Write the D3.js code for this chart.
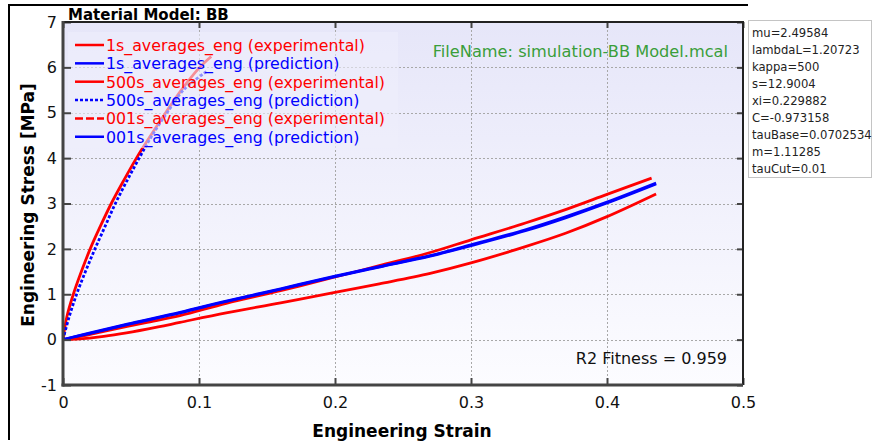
<!DOCTYPE html>
<html>
<head>
<meta charset="utf-8">
<script src="https://cdn.jsdelivr.net/npm/d3@7"></script>
<style>
  html, body { margin: 0; padding: 0; background: #ffffff; }
  svg { display: block; font-family: "DejaVu Sans", Verdana, sans-serif; }
</style>
</head>
<body>
<svg id="chart" width="873" height="442"></svg>
<script>
// Axis ticks
const xTicks = [0, 0.1, 0.2, 0.3, 0.4, 0.5];
const yTicks = [-1, 0, 1, 2, 3, 4, 5, 6, 7];

// 500s rate: experimental and prediction (stiff branch)
const strain500Exp = [0, 0.0028, 0.0076, 0.0135, 0.0200, 0.0275, 0.0355, 0.0445, 0.054, 0.0645, 0.0755, 0.087, 0.1005, 0.109];
const stress500Exp = [0, 0.5, 1.0, 1.5, 2.0, 2.5, 3.0, 3.5, 4.0, 4.5, 5.0, 5.5, 6.0, 6.24];
const strain500Pred = [0, 0.0045, 0.010, 0.0165, 0.0235, 0.031, 0.0385, 0.047, 0.056, 0.0655, 0.0765, 0.0885, 0.1056];
const stress500Pred = [0, 0.5, 1.0, 1.5, 2.0, 2.5, 3.0, 3.5, 4.0, 4.5, 5.0, 5.5, 5.91];

// 1s rate
const strain1Exp = [0, 0.01, 0.03, 0.06, 0.086, 0.12, 0.16, 0.2, 0.2326, 0.27, 0.3, 0.34, 0.37, 0.4, 0.4328];
const stress1Exp = [0, 0.05, 0.18, 0.37, 0.53, 0.8, 1.08, 1.38, 1.63, 1.92, 2.2, 2.57, 2.87, 3.2, 3.56];
const strain1Pred = [0, 0.02, 0.05, 0.086, 0.12, 0.16, 0.2, 0.2326, 0.27, 0.3, 0.34, 0.37, 0.4, 0.4361];
const stress1Pred = [0, 0.14, 0.35, 0.59, 0.84, 1.11, 1.39, 1.60, 1.84, 2.07, 2.4, 2.69, 3.01, 3.43];

// 001s rate
const strain001Exp = [0, 0.01, 0.03, 0.0467, 0.07, 0.086, 0.12, 0.16, 0.2, 0.2326, 0.27, 0.3, 0.34, 0.37, 0.4, 0.4361];
const stress001Exp = [0, 0.01, 0.07, 0.147, 0.28, 0.38, 0.59, 0.81, 1.04, 1.23, 1.46, 1.69, 2.05, 2.35, 2.71, 3.21];
const strain001Pred = [0, 0.02, 0.05, 0.086, 0.12, 0.16, 0.2, 0.2326, 0.27, 0.3, 0.34, 0.37, 0.4, 0.4361];
const stress001Pred = [0, 0.15, 0.36, 0.60, 0.85, 1.12, 1.40, 1.61, 1.85, 2.09, 2.42, 2.71, 3.03, 3.45];

// Legend entries
const legendLabels = [
  "1s_averages_eng (experimental)",
  "1s_averages_eng (prediction)",
  "500s_averages_eng (experimental)",
  "500s_averages_eng (prediction)",
  "001s_averages_eng (experimental)",
  "001s_averages_eng (prediction)"
];

// Fitted material parameters
const paramLines = [
  "mu=2.49584", "lambdaL=1.20723", "kappa=500", "s=12.9004", "xi=0.229882",
  "C=-0.973158", "tauBase=0.0702534", "m=1.11285", "tauCut=0.01"
];

const RED = "#ff0000", BLUE = "#0000ff";
const series = [
  { label: legendLabels[0], x: strain1Exp,    y: stress1Exp,    color: RED,  dash: null,  width: 2.8, legendDash: null },
  { label: legendLabels[1], x: strain1Pred,   y: stress1Pred,   color: BLUE, dash: null,  width: 2.8, legendDash: null },
  { label: legendLabels[2], x: strain500Exp,  y: stress500Exp,  color: RED,  dash: null,  width: 2.8, legendDash: null },
  { label: legendLabels[3], x: strain500Pred, y: stress500Pred, color: BLUE, dash: "3,2", width: 2.8, legendDash: "3,2" },
  { label: legendLabels[4], x: strain001Exp,  y: stress001Exp,  color: RED,  dash: null,  width: 2.8, legendDash: "8,3" },
  { label: legendLabels[5], x: strain001Pred, y: stress001Pred, color: BLUE, dash: null,  width: 2.8, legendDash: null }
];

const svg = d3.select("#chart");
const plot = { left: 63, right: 743, top: 22, bottom: 385 };

const x = d3.scaleLinear().domain([0, 0.5]).range([plot.left, plot.right]);
const y = d3.scaleLinear().domain([-1, 7]).range([plot.bottom, plot.top]);

// Figure frame
svg.append("path")
  .attr("d", `M9,440 L9,5 L748,5`)
  .attr("fill", "none").attr("stroke", "#000").attr("stroke-width", 2);

// Plot background gradient
const defs = svg.append("defs");
const grad = defs.append("linearGradient").attr("id", "bg").attr("x1", 0).attr("y1", 0).attr("x2", 0).attr("y2", 1);
grad.append("stop").attr("offset", "0%").attr("stop-color", "#e6e6f9");
grad.append("stop").attr("offset", "100%").attr("stop-color", "#fcfcff");
defs.append("clipPath").attr("id", "clip").append("rect")
  .attr("x", plot.left).attr("y", plot.top)
  .attr("width", plot.right - plot.left).attr("height", plot.bottom - plot.top);

svg.append("rect")
  .attr("x", plot.left).attr("y", plot.top)
  .attr("width", plot.right - plot.left).attr("height", plot.bottom - plot.top)
  .attr("fill", "url(#bg)");

// Grid
const grid = svg.append("g").attr("stroke", "#a8a8a8").attr("stroke-width", 1).attr("stroke-dasharray", "2,2");
grid.selectAll("line.gx").data(xTicks.slice(1, -1)).join("line")
  .attr("x1", d => Math.round(x(d)) + 0.5).attr("x2", d => Math.round(x(d)) + 0.5)
  .attr("y1", plot.top).attr("y2", plot.bottom);
grid.selectAll("line.gy").data(yTicks.slice(1, -1)).join("line")
  .attr("y1", d => Math.round(y(d)) + 0.5).attr("y2", d => Math.round(y(d)) + 0.5)
  .attr("x1", plot.left).attr("x2", plot.right);

// Curves
const line = d3.line().curve(d3.curveCatmullRom.alpha(0.5));
const curves = svg.append("g").attr("clip-path", "url(#clip)");
series.forEach(s => {
  const pts = s.x.map((v, i) => [x(v), y(s.y[i])]);
  curves.append("path")
    .attr("d", line(pts))
    .attr("fill", "none")
    .attr("stroke", s.color)
    .attr("stroke-width", s.width)
    .attr("stroke-dasharray", s.dash)
    .attr("stroke-linejoin", "round");
});

// Legend (semi-transparent panel)
const legend = svg.append("g");
legend.append("rect")
  .attr("x", 68).attr("y", 32).attr("width", 330).attr("height", 116)
  .attr("fill", "#eeeefc").attr("fill-opacity", 0.6);
series.forEach((s, i) => {
  const cy = 45 + i * 18.35;
  legend.append("line")
    .attr("x1", 75).attr("x2", 104).attr("y1", cy).attr("y2", cy)
    .attr("stroke", s.color).attr("stroke-width", 2.5)
    .attr("stroke-dasharray", s.legendDash);
  legend.append("text")
    .attr("x", 106).attr("y", cy + 5.8)
    .attr("fill", s.color).attr("font-size", 15.8)
    .text(s.label);
});

// Axes
const axisColor = "#444";
const fmt = d => String(d);
const gx = svg.append("g").attr("transform", `translate(0,${plot.bottom})`)
  .call(d3.axisBottom(x).tickValues(xTicks).tickFormat(fmt).tickSize(-7).tickPadding(14));
const gxTop = svg.append("g").attr("transform", `translate(0,${plot.top})`)
  .call(d3.axisTop(x).tickValues(xTicks).tickFormat("").tickSize(-6));
const gy = svg.append("g").attr("transform", `translate(${plot.left},0)`)
  .call(d3.axisLeft(y).tickValues(yTicks).tickFormat(fmt).tickSize(-8).tickPadding(6));
const gyR = svg.append("g").attr("transform", `translate(${plot.right},0)`)
  .call(d3.axisRight(y).tickValues(yTicks).tickFormat("").tickSize(-6));

[gx, gxTop, gy, gyR].forEach(g => {
  g.select(".domain").remove();
  g.selectAll(".tick line").attr("stroke", axisColor).attr("stroke-width", 2);
  g.selectAll(".tick text").attr("fill", "#111").attr("font-size", 16)
    .attr("font-family", "DejaVu Sans, Verdana, sans-serif");
});
gx.selectAll(".tick text").attr("dy", "0.55em");

// Plot frame
svg.append("line").attr("x1", plot.left).attr("x2", plot.right + 1).attr("y1", plot.top).attr("y2", plot.top)
  .attr("stroke", "#222").attr("stroke-width", 2);
svg.append("line").attr("x1", plot.right).attr("x2", plot.right).attr("y1", plot.top).attr("y2", plot.bottom)
  .attr("stroke", "#222").attr("stroke-width", 2);
svg.append("line").attr("x1", plot.left).attr("x2", plot.left).attr("y1", plot.top - 1).attr("y2", plot.bottom + 1.5)
  .attr("stroke", axisColor).attr("stroke-width", 3);
svg.append("line").attr("x1", plot.left - 1.5).attr("x2", plot.right).attr("y1", plot.bottom).attr("y2", plot.bottom)
  .attr("stroke", axisColor).attr("stroke-width", 3);

// Titles
svg.append("text").attr("x", 68).attr("y", 20)
  .attr("font-size", 15).attr("font-weight", "bold").attr("fill", "#000")
  .text("Material Model: BB");
svg.append("text").attr("x", 402).attr("y", 437).attr("text-anchor", "middle")
  .attr("font-size", 17).attr("font-weight", "bold").attr("fill", "#000")
  .text("Engineering Strain");
svg.append("text").attr("transform", "translate(34,205) rotate(-90)").attr("text-anchor", "middle")
  .attr("font-size", 17).attr("font-weight", "bold").attr("fill", "#000")
  .text("Engineering Stress [MPa]");

// Annotations
svg.append("text").attr("x", 728).attr("y", 57).attr("text-anchor", "end")
  .attr("font-size", 16.2).attr("fill", "#3a9e3a")
  .text("FileName: simulation-BB Model.mcal");
svg.append("text").attr("x", 727).attr("y", 364).attr("text-anchor", "end")
  .attr("font-size", 16).attr("fill", "#111")
  .text("R2 Fitness = 0.959");

// Parameter box
const pb = svg.append("g");
pb.append("rect").attr("x", 748.5).attr("y", 20.5).attr("width", 123).attr("height", 157)
  .attr("fill", "#fff").attr("stroke", "#888").attr("stroke-width", 1).attr("stroke-dasharray", "1,1");
pb.selectAll("text").data(paramLines).join("text")
  .attr("x", 752).attr("y", (d, i) => 37 + i * 17)
  .attr("font-size", 11.6).attr("fill", "#222")
  .text(d => d);
</script>
</body>
</html>
